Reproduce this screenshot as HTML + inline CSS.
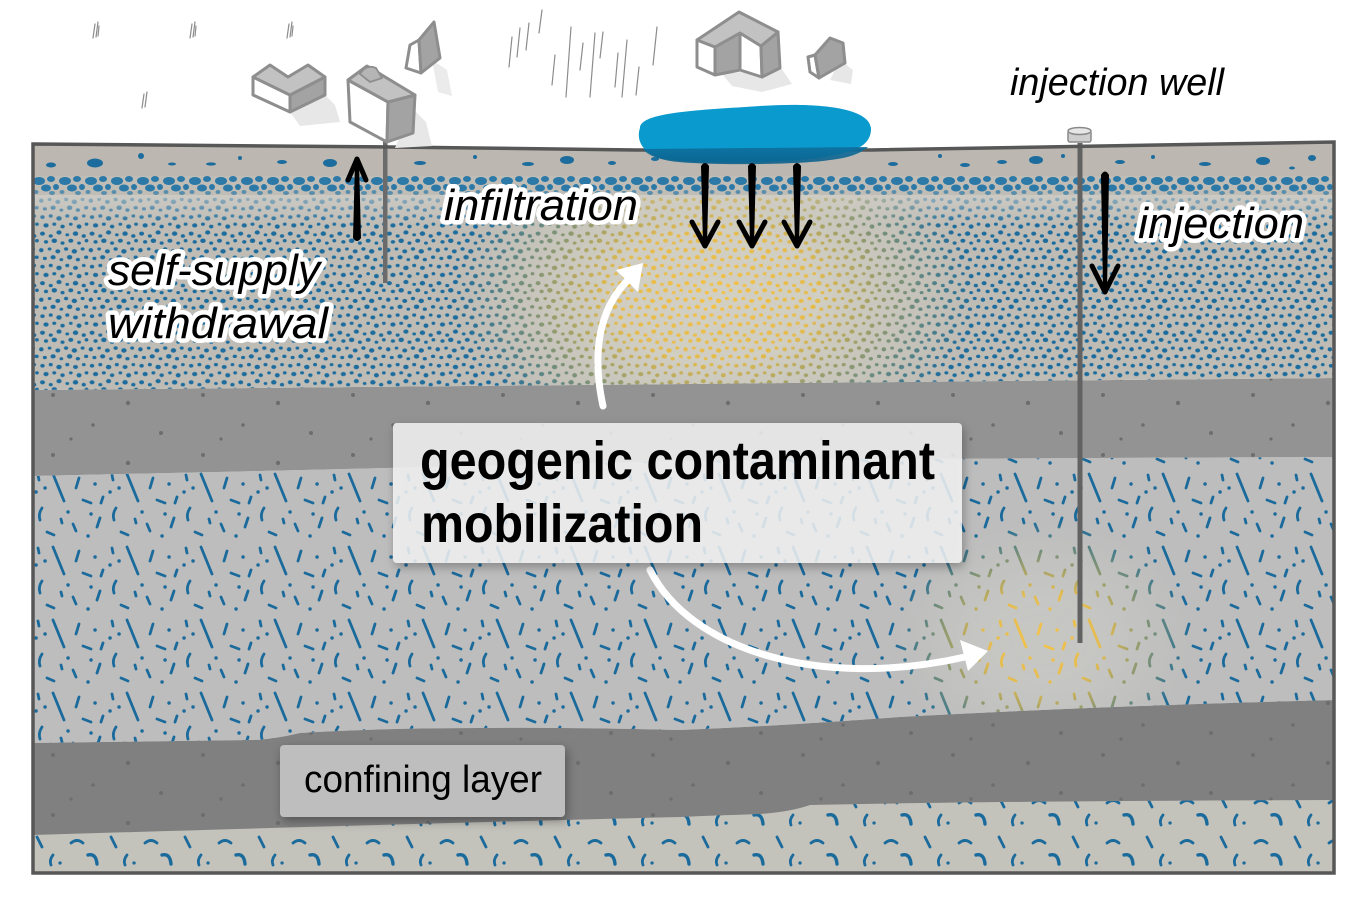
<!DOCTYPE html>
<html><head><meta charset="utf-8"><style>html,body{margin:0;padding:0;background:#fff}svg{display:block}</style></head>
<body>
<svg width="1361" height="903" viewBox="0 0 1361 903" xmlns="http://www.w3.org/2000/svg">
<defs>
  <g id="dotTile">
    <ellipse cx="3" cy="3" rx="2.1" ry="1.7"/><ellipse cx="10" cy="5" rx="1.7" ry="1.4"/><ellipse cx="17" cy="2" rx="2.2" ry="1.8"/><ellipse cx="24" cy="4" rx="1.6" ry="1.3"/><ellipse cx="31" cy="3" rx="2.3" ry="1.9"/><ellipse cx="38" cy="5" rx="1.8" ry="1.5"/>
    <ellipse cx="6" cy="10" rx="1.8" ry="1.5"/><ellipse cx="13" cy="9" rx="2.3" ry="1.9"/><ellipse cx="20" cy="11" rx="1.7" ry="1.4"/><ellipse cx="27" cy="9" rx="2.1" ry="1.7"/><ellipse cx="34" cy="11" rx="1.6" ry="1.3"/><ellipse cx="40.3" cy="9" rx="1.6" ry="1.4"/>
    <ellipse cx="2" cy="17" rx="1.9" ry="1.8"/><ellipse cx="9" cy="16" rx="1.6" ry="1.3"/><ellipse cx="16" cy="18" rx="2.1" ry="1.7"/><ellipse cx="23" cy="16" rx="1.8" ry="1.5"/><ellipse cx="30" cy="18" rx="2.3" ry="1.9"/><ellipse cx="37" cy="16" rx="1.7" ry="1.4"/>
    <ellipse cx="5" cy="24" rx="1.7" ry="1.4"/><ellipse cx="12" cy="23" rx="2.2" ry="1.8"/><ellipse cx="19" cy="25" rx="1.6" ry="1.3"/><ellipse cx="26" cy="23" rx="2.3" ry="1.9"/><ellipse cx="33" cy="25" rx="1.8" ry="1.5"/><ellipse cx="40" cy="23" rx="1.8" ry="1.5"/>
    <ellipse cx="3" cy="31" rx="1.9" ry="1.6"/><ellipse cx="10" cy="30" rx="1.7" ry="1.4"/><ellipse cx="17" cy="32" rx="2.3" ry="1.9"/><ellipse cx="24" cy="30" rx="1.7" ry="1.4"/><ellipse cx="31" cy="32" rx="2.1" ry="1.7"/><ellipse cx="38" cy="30" rx="1.6" ry="1.3"/>
    <ellipse cx="6" cy="38" rx="2.2" ry="1.8"/><ellipse cx="13" cy="37" rx="1.7" ry="1.4"/><ellipse cx="20" cy="39" rx="1.9" ry="1.6"/><ellipse cx="27" cy="37" rx="1.6" ry="1.3"/><ellipse cx="34" cy="39" rx="2.1" ry="1.8"/><ellipse cx="40.3" cy="37" rx="1.6" ry="1.4"/>
  </g>
  <g id="dashTile" fill="none" stroke-linecap="round" stroke-width="2.8">
    <path d="M20 4 L31 31"/><path d="M46 8 L43 18"/><path d="M50 30 L58 33"/><path d="M9 38 Q5 44 7 50"/>
    <path d="M35 42 l0.1 0" stroke-width="3.4"/><path d="M62 14 l0.1 0" stroke-width="3.4"/><path d="M67 48 L64 57"/>
    <path d="M40 54 L43 61"/><path d="M14 62 L21 65"/><path d="M55 66 l0.1 0" stroke-width="3.4"/><path d="M28 49 L29 53"/>
    <path d="M3 22 l0.1 0" stroke-width="3.4"/><path d="M70 27 L68 33"/><path d="M12 18 l0.1 0" stroke-width="3.4"/>
    <path d="M58 44 l0.1 0" stroke-width="3.4"/><path d="M5 5 L6 10"/>
  </g>
  <pattern id="pBlueDots" patternUnits="userSpaceOnUse" width="42" height="42" x="33" y="195" patternTransform="scale(1.18)"><use href="#dotTile" fill="#1d6c9e"/></pattern>
  <pattern id="pYellowDots" patternUnits="userSpaceOnUse" width="42" height="42" x="33" y="195" patternTransform="scale(1.18)"><use href="#dotTile" fill="#f6c246"/></pattern>
  <pattern id="pBlueDash" patternUnits="userSpaceOnUse" width="74" height="73" x="33" y="470"><use href="#dashTile" stroke="#1b6a9c"/></pattern>
  <pattern id="pYellowDash" patternUnits="userSpaceOnUse" width="74" height="73" x="33" y="470"><use href="#dashTile" stroke="#f5c34a"/></pattern>
  <pattern id="pPebble" patternUnits="userSpaceOnUse" width="26" height="22" x="33" y="175">
    <g fill="#2c79a7">
      <ellipse cx="6" cy="6" rx="6" ry="4"/><ellipse cx="18" cy="4" rx="4" ry="3"/><ellipse cx="13" cy="13" rx="5" ry="3.5"/>
      <ellipse cx="23" cy="12" rx="3" ry="3"/><ellipse cx="3" cy="17" rx="2.5" ry="2" opacity=".7"/><ellipse cx="19" cy="18" rx="3" ry="2" opacity=".7"/>
    </g>
  </pattern>
  <pattern id="pBottom" patternUnits="userSpaceOnUse" width="74" height="40" x="33" y="834">
    <g fill="none" stroke="#1b6a9c" stroke-width="2.8" stroke-linecap="round">
      <path d="M4 3 L9 13"/><path d="M38 9 Q44 4 50 9"/>
      <path d="M20 21 Q16 26 18 31"/><path d="M27 29 l0.1 0" stroke-width="3.2"/><path d="M55 21 Q63 19 64 30" stroke-width="3.4"/>
    </g>
  </pattern>
  <pattern id="pConf" patternUnits="userSpaceOnUse" width="150" height="60" x="33" y="385">
    <g fill="#6d6d6d">
      <circle cx="20" cy="10" r="2"/><circle cx="95" cy="18" r="2.2"/><circle cx="60" cy="40" r="1.8"/><circle cx="128" cy="48" r="2"/><circle cx="38" cy="54" r="1.6"/>
    </g>
  </pattern>
  <radialGradient id="rg">
    <stop offset="0" stop-color="#fff" stop-opacity="1"/>
    <stop offset="0.4" stop-color="#fff" stop-opacity="0.92"/>
    <stop offset="0.75" stop-color="#fff" stop-opacity="0.4"/>
    <stop offset="1" stop-color="#fff" stop-opacity="0"/>
  </radialGradient>
  <mask id="mUp" maskUnits="userSpaceOnUse" x="0" y="0" width="1361" height="903"><ellipse cx="715" cy="295" rx="260" ry="165" fill="url(#rg)"/></mask>
  <mask id="mLow" maskUnits="userSpaceOnUse" x="0" y="0" width="1361" height="903"><ellipse cx="1043" cy="640" rx="150" ry="120" fill="url(#rg)"/></mask>
  <clipPath id="cUp"><path d="M33 195 L1334 195 L1334 378 L33 390 Z"/></clipPath>
  <clipPath id="cMid"><path d="M33 476 Q400 468 680 461 Q1000 458 1334 457 L1334 700 Q1100 706 900 717 Q780 726 680 730 Q560 727 480 728 Q380 728 300 733 Q270 740 250 740 L33 743 Z"/></clipPath>
  <linearGradient id="pondDark" x1="0" y1="0" x2="0" y2="1">
    <stop offset="0" stop-color="#0e6f9e"/><stop offset="1" stop-color="#0b5f8a"/>
  </linearGradient>
  <linearGradient id="aqTop" x1="0" y1="0" x2="0" y2="1">
    <stop offset="0" stop-color="#d2d0ca" stop-opacity="0.7"/><stop offset="1" stop-color="#d2d0ca" stop-opacity="0"/>
  </linearGradient>
  <filter id="shadow" x="-10%" y="-20%" width="130%" height="150%">
    <feDropShadow dx="2" dy="4" stdDeviation="5" flood-color="#000" flood-opacity="0.35"/>
  </filter>
</defs>

<rect width="1361" height="903" fill="#fff"/>

<!-- bottom aquifer -->
<rect x="33" y="700" width="1301" height="173" fill="#c3c2bb"/>
<rect x="33" y="700" width="1301" height="173" fill="url(#pBottom)"/>

<!-- lower confining -->
<path d="M33 743 L250 740 Q270 740 300 733 Q380 728 480 728 Q560 727 680 730 Q780 726 900 717 Q1100 706 1334 700 L1334 800 Q1000 801 810 805 Q790 812 760 814 Q700 816 680 817 Q400 824 33 835 Z" fill="#808081"/>
<path d="M33 743 L250 740 Q270 740 300 733 Q380 728 480 728 Q560 727 680 730 Q780 726 900 717 Q1100 706 1334 700 L1334 800 Q1000 801 810 805 Q790 812 760 814 Q700 816 680 817 Q400 824 33 835 Z" fill="url(#pConf)"/>

<!-- middle aquifer -->
<path d="M33 476 Q400 468 680 461 Q1000 458 1334 457 L1334 700 Q1100 706 900 717 Q780 726 680 730 Q560 727 480 728 Q380 728 300 733 Q270 740 250 740 L33 743 Z" fill="#bdbdbd"/>
<path d="M33 476 Q400 468 680 461 Q1000 458 1334 457 L1334 700 Q1100 706 900 717 Q780 726 680 730 Q560 727 480 728 Q380 728 300 733 Q270 740 250 740 L33 743 Z" fill="url(#pBlueDash)"/>
<g clip-path="url(#cMid)" mask="url(#mLow)">
  <rect x="850" y="480" width="400" height="260" fill="#c6c6c3"/>
  <rect x="850" y="480" width="400" height="260" fill="url(#pYellowDash)"/>
</g>

<!-- upper confining -->
<path d="M33 390 L1334 378 L1334 457 Q1000 458 680 461 Q400 468 33 476 Z" fill="#939393"/>
<path d="M33 390 L1334 378 L1334 457 Q1000 458 680 461 Q400 468 33 476 Z" fill="url(#pConf)"/>

<!-- upper aquifer -->
<path d="M33 195 L1334 195 L1334 378 L33 390 Z" fill="#bebcb5"/>
<path d="M33 195 L1334 195 L1334 378 L33 390 Z" fill="url(#pBlueDots)"/>
<rect x="33" y="195" width="1301" height="30" fill="url(#aqTop)"/>
<g clip-path="url(#cUp)" mask="url(#mUp)">
  <rect x="400" y="195" width="650" height="200" fill="#d2cfc3"/>
  <rect x="400" y="195" width="650" height="200" fill="url(#pYellowDots)"/>
</g>

<!-- pebble band -->
<rect x="33" y="175" width="1301" height="20" fill="#c0bdb6"/>
<rect x="33" y="175" width="1301" height="20" fill="url(#pPebble)"/>

<!-- surface band -->
<path d="M33 144 L390 147 L640 150 L870 150 L1334 142 L1334 176 L33 176 Z" fill="#bcb8b1"/>
<g fill="#1d6c9e">
  <ellipse cx="51" cy="165" rx="5" ry="2.5"/><ellipse cx="95" cy="163" rx="8" ry="4.5"/><ellipse cx="141" cy="156" rx="3" ry="3"/>
  <ellipse cx="172" cy="164" rx="4" ry="1.5"/><ellipse cx="211" cy="164" rx="5" ry="1.6"/><ellipse cx="240" cy="158" rx="2" ry="2"/>
  <ellipse cx="282" cy="162" rx="5" ry="2"/><ellipse cx="330" cy="163" rx="7" ry="4"/><ellipse cx="420" cy="163" rx="6" ry="2"/>
  <ellipse cx="475" cy="157" rx="2" ry="2"/><ellipse cx="528" cy="164" rx="6" ry="2"/><ellipse cx="567" cy="160" rx="7" ry="4"/>
  <ellipse cx="612" cy="163" rx="4" ry="2"/><ellipse cx="655" cy="159" rx="4" ry="2"/><ellipse cx="893" cy="164" rx="5" ry="2"/>
  <ellipse cx="940" cy="156" rx="2" ry="2"/><ellipse cx="965" cy="165" rx="5" ry="2"/><ellipse cx="1002" cy="162" rx="5" ry="2"/>
  <ellipse cx="1036" cy="160" rx="7" ry="4"/><ellipse cx="1063" cy="156" rx="2" ry="2"/><ellipse cx="1120" cy="162" rx="5" ry="2"/>
  <ellipse cx="1153" cy="157" rx="2" ry="2"/><ellipse cx="1205" cy="164" rx="6" ry="2"/><ellipse cx="1263" cy="161" rx="7" ry="4"/>
  <ellipse cx="1312" cy="158" rx="4" ry="3"/><ellipse cx="1292" cy="168" rx="3" ry="1.5"/>
</g>

<!-- wells -->
<rect x="383" y="140" width="4.5" height="143" fill="#6b6b6b"/>
<rect x="1077.5" y="143" width="5" height="500" fill="#626262"/>

<!-- border -->
<path d="M33 144 L390 147 L640 150 L870 150 L1334 142 L1334 873 L33 873 Z" fill="none" stroke="#575757" stroke-width="3.5"/>

<!-- well cap -->
<rect x="1068" y="131" width="23" height="11" rx="2" fill="#cfcfcf" stroke="#8a8a8a" stroke-width="1.5"/>
<ellipse cx="1079.5" cy="131" rx="11.5" ry="3.5" fill="#e6e6e6" stroke="#8a8a8a" stroke-width="1.5"/>

<!-- pond -->
<path d="M640 128 C640 112 700 110 760 106 C820 102 872 108 871 130 C870 148 850 152 830 156 C800 163 690 165 660 158 C642 152 636 140 640 128 Z" fill="#0a9acd"/>
<path d="M643 149 L868 147 C860 154 848 158 830 160 C800 165 690 166 665 160 C652 157 646 153 643 149 Z" fill="url(#pondDark)" opacity="0.9"/>

<!-- black arrows -->
<g fill="#000" stroke="none">
  <path d="M701 166 Q705 160 709 166 L707 244 L703 244 Z"/>
  <path d="M748 166 Q752 160 756 166 L754 244 L750 244 Z"/>
  <path d="M793 166 Q797 160 801 166 L799 244 L795 244 Z"/>
  <path d="M1101 175 Q1105 168 1109 175 L1107 290 L1103 290 Z"/>
  <path d="M353 238 Q357 244 361 238 L359 162 L355 162 Z"/>
</g>
<g fill="none" stroke="#000" stroke-width="5" stroke-linecap="round" stroke-linejoin="round">
  <path d="M692 222 L705 246 L718 222"/>
  <path d="M739 222 L752 246 L765 222"/>
  <path d="M784 222 L797 246 L810 222"/>
  <path d="M1092 266 L1105 292 L1118 266"/>
  <path d="M348 180 L357 159 L366 180"/>
</g>

<!-- white arrows -->
<path d="M603 406 C592 355 598 310 628 280" fill="none" stroke="#fff" stroke-width="7" stroke-linecap="round"/>
<path d="M643 263 L616 270 L638 292 Z" fill="#fff"/>
<path d="M650 570 C690 650 820 690 965 657" fill="none" stroke="#fff" stroke-width="7" stroke-linecap="round"/>
<path d="M988 651 L960 640 L968 671 Z" fill="#fff"/>

<!-- grass -->
<g stroke="#8c8c8c" stroke-width="1.2" fill="none" stroke-linecap="round">
  <path d="M93 38 L95 24"/><path d="M96 37 L98 22"/><path d="M98 36 L99 26"/>
  <path d="M190 38 L192 24"/><path d="M193 37 L195 22"/><path d="M195 36 L196 26"/>
  <path d="M287 38 L289 24"/><path d="M290 37 L292 22"/><path d="M292 36 L293 26"/>
  <path d="M142 108 L144 94"/><path d="M145 107 L147 92"/>
  <path d="M509 67 L512 37"/><path d="M517 57 L520 28"/><path d="M526 50 L529 23"/><path d="M539 33 L542 10"/>
  <path d="M552 85 L555 55"/><path d="M566 97 L571 27"/><path d="M580 70 L583 43"/><path d="M590 97 L595 33"/>
  <path d="M600 58 L603 32"/><path d="M615 87 L618 53"/><path d="M622 97 L627 40"/><path d="M636 95 L639 67"/>
  <path d="M653 65 L657 27"/>
</g>

<!-- houses -->
<g stroke="#8e8e8e" stroke-width="3" stroke-linejoin="round">
  <path d="M290 112 L325 95 L335 105 L340 122 L300 126 Z" fill="#e7e7e7" stroke="none"/>
  <path d="M412 108 L426 122 L432 146 L395 148 Z" fill="#e7e7e7" stroke="none"/>
  <path d="M432 60 L447 70 L452 96 L438 92 Z" fill="#ebebeb" stroke="none"/>
  <path d="M722 74 L781 68 L792 84 L762 92 L732 86 Z" fill="#e7e7e7" stroke="none"/>
  <path d="M840 60 L853 70 L851 84 L830 80 Z" fill="#e7e7e7" stroke="none"/>
  <path d="M253 77 L290 95 L290 112 L253 95 Z" fill="#fff"/>
  <path d="M290 95 L325 77 L325 95 L290 112 Z" fill="#a3a3a3"/>
  <path d="M253 77 L270 65 L288 77 L308 65 L325 77 L290 95 Z" fill="#c2c2c2"/>
  <path d="M348 80 L388 102 L387 142 L350 122 Z" fill="#fff"/>
  <path d="M388 102 L415 95 L413 133 L387 142 Z" fill="#a3a3a3"/>
  <path d="M348 80 L367 66 L415 95 L388 102 Z" fill="#c2c2c2"/>
  <path d="M360 74 Q366 64 376 68 L382 78 L370 82 Z" fill="#b5b5b5" stroke-width="1.8"/>
  <path d="M406 68 L410 45 L419 40 L421 73 Z" fill="#fff"/>
  <path d="M419 40 L434 22 L440 58 L421 73 Z" fill="#a3a3a3"/>
  <path d="M697 40 L715 47 L715 75 L697 67 Z" fill="#fff"/>
  <path d="M715 47 L740 33 L740 70 L715 75 Z" fill="#a3a3a3"/>
  <path d="M740 33 L761 46 L762 77 L740 70 Z" fill="#fff"/>
  <path d="M761 46 L778 32 L780 68 L762 77 Z" fill="#a3a3a3"/>
  <path d="M697 40 L739 12 L778 32 L761 46 L740 33 L715 47 Z" fill="#c2c2c2"/>
  <path d="M808 57 L815 55 L819 78 L810 72 Z" fill="#fff"/>
  <path d="M815 55 L830 38 L843 43 L845 63 L819 78 Z" fill="#a3a3a3"/>
</g>

<!-- labels with halo -->
<g font-family="'Liberation Sans', sans-serif" font-style="italic" font-size="44" fill="#000" stroke="#fff" stroke-width="9" stroke-linejoin="round" paint-order="stroke">
  <text x="444" y="220" textLength="194" lengthAdjust="spacingAndGlyphs">infiltration</text>
  <text x="108" y="285" textLength="212" lengthAdjust="spacingAndGlyphs">self-supply</text>
  <text x="108" y="338" textLength="220" lengthAdjust="spacingAndGlyphs">withdrawal</text>
  <text x="1138" y="238" textLength="166" lengthAdjust="spacingAndGlyphs">injection</text>
</g>
<text x="1010" y="95" font-family="'Liberation Sans', sans-serif" font-style="italic" font-size="38" fill="#000" textLength="214" lengthAdjust="spacingAndGlyphs">injection well</text>

<!-- geogenic box -->
<rect x="393" y="423" width="569" height="140" rx="4" fill="#f6f6f6" fill-opacity="0.82" filter="url(#shadow)"/>
<g font-family="'Liberation Sans', sans-serif" font-weight="bold" font-size="54" fill="#000">
  <text x="420" y="479" textLength="515" lengthAdjust="spacingAndGlyphs">geogenic contaminant</text>
  <text x="421" y="542" textLength="282" lengthAdjust="spacingAndGlyphs">mobilization</text>
</g>

<!-- confining layer box -->
<rect x="280" y="745" width="285" height="72" rx="4" fill="#bebebe" filter="url(#shadow)"/>
<text x="304" y="792" font-family="'Liberation Sans', sans-serif" font-size="38" fill="#000" textLength="238" lengthAdjust="spacingAndGlyphs">confining layer</text>
</svg>
</body></html>
